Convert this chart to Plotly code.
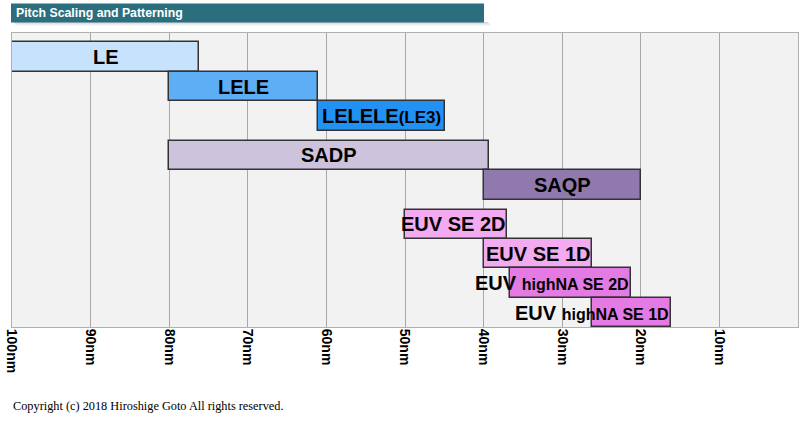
import plotly.graph_objects as go

# ---- data ----
techniques = ["LE", "LELE", "LELELE(LE3)", "SADP", "SAQP",
              "EUV SE 2D", "EUV SE 1D", "EUV highNA SE 2D", "EUV highNA SE 1D"]
label_html = ["LE", "LELE", "LELELE<span style='font-size:17px'>(LE3)</span>", "SADP", "SAQP",
              "EUV SE 2D", "EUV SE 1D",
              "EUV <span style='font-size:16px'>highNA SE 2D</span>",
              "EUV <span style='font-size:16px'>highNA SE 1D</span>"]
pitch_max = [100, 80, 61.1, 80, 40, 50, 40, 36.7, 26.2]    # nm, left end
pitch_min = [76.2, 61.1, 44.9, 39.3, 20, 37.0, 26.2, 21.2, 16.2]  # nm, right end
group = [0, 0, 0, 1, 1, 2, 2, 2, 2]
tick_vals = [100, 90, 80, 70, 60, 50, 40, 30, 20, 10]
tick_text = ["100nm", "90nm", "80nm", "70nm", "60nm", "50nm", "40nm", "30nm", "20nm", "10nm"]

colors = ["#c6e2fc", "#5eaef6", "#2191f3", "#cdc3dc", "#9079ac",
          "#f2aaf0", "#f2aaf0", "#e47ae3", "#e47ae3"]

# row layout
top_offset = 0.32
group_gap = 0.345
row_y = [top_offset + i + 0.5 + group_gap * g for i, g in enumerate(group)]

W, H = 800, 424
ml, mr, mt, mb = 12, 2, 33, 424 - 327

def px_x(p):  # page pixel -> paper x
    return (p - ml) / (W - ml - mr)

def px_y(p):  # page pixel -> paper y
    return 1 - (p - mt) / (H - mt - mb)

bold = dict(family="Liberation Sans, Arial", color="black", weight="bold")

fig = go.Figure()
fig.add_trace(go.Bar(
    orientation="h",
    y=row_y,
    base=pitch_min,
    x=[a - b for a, b in zip(pitch_max, pitch_min)],
    width=1.0,
    marker=dict(color=colors, line=dict(color="#333333", width=1.5)),
    hovertext=techniques,
    hoverinfo="text",
    showlegend=False,
))

annotations = []
for i, txt in enumerate(label_html):
    if i >= 5:
        annotations.append(dict(x=pitch_min[i], y=row_y[i], xref="x", yref="y",
                                text=txt, showarrow=False, xanchor="right", yanchor="middle",
                                font=dict(size=20, **bold)))
    else:
        annotations.append(dict(x=(pitch_max[i] + pitch_min[i]) / 2, y=row_y[i], xref="x", yref="y",
                                text=txt, showarrow=False, xanchor="center", yanchor="middle",
                                font=dict(size=20, **bold)))

annotations.append(dict(x=px_x(14), y=px_y(12.8), xref="paper", yref="paper",
                        text="Pitch Scaling and Patterning",
                        showarrow=False, xanchor="left", yanchor="middle",
                        font=dict(family="Liberation Sans, Arial", size=12.3, color="white", weight="bold")))
annotations.append(dict(x=px_x(11), y=px_y(406), xref="paper", yref="paper",
                        text="Copyright (c) 2018 Hiroshige Goto All rights reserved.",
                        showarrow=False, xanchor="left", yanchor="middle",
                        font=dict(family="Liberation Serif, Times New Roman", size=12.3, color="black")))

shapes = []
for k, op in enumerate([0.35, 0.25, 0.15, 0.08]):
    shapes.append(dict(type="rect", xref="paper", yref="paper",
                       x0=px_x(14 + k), x1=px_x(488 + k), y0=px_y(23 + k), y1=px_y(22 + k),
                       fillcolor="#888888", opacity=op, line=dict(width=0), layer="above"))
shapes.append(dict(type="rect", xref="paper", yref="paper",
                   x0=px_x(11), x1=px_x(484), y0=px_y(22.5), y1=px_y(3.5),
                   fillcolor="#2b6f7f", line=dict(width=0), layer="above"))

fig.update_layout(
    width=W, height=H,
    margin=dict(l=ml, r=mr, t=mt, b=mb, pad=0),
    paper_bgcolor="white",
    plot_bgcolor="#f2f2f2",
    annotations=annotations,
    shapes=shapes,
    bargap=0,
    xaxis=dict(range=[100, 0], tickvals=tick_vals, ticktext=tick_text, tickangle=90,
               showgrid=True, gridcolor="#a8a8a8", gridwidth=1, zeroline=False,
               showline=True, linecolor="#b0b0b0", linewidth=1, mirror=True, ticks="",
               ticklabelstandoff=-2,
               tickfont=dict(size=14, **bold)),
    yaxis=dict(range=[10, 0], showgrid=False, zeroline=False, showticklabels=False,
               showline=True, linecolor="#b0b0b0", linewidth=1, mirror=True, ticks=""),
)

fig.write_html("out.html",
               config={"displayModeBar": False},
               post_script="document.body.style.margin='0px';document.body.style.padding='0px';")
